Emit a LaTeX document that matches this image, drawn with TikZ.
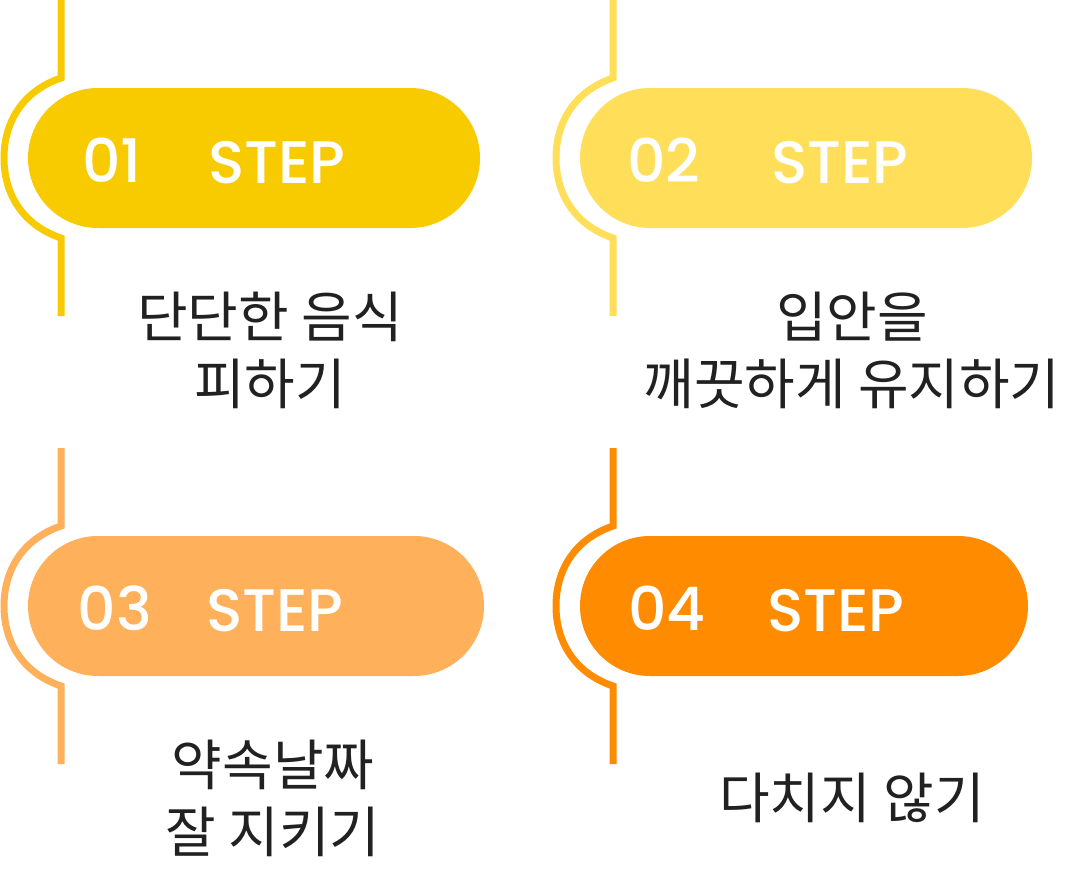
\documentclass[tikz,border=0pt]{standalone}
\usepackage{fontspec}
\setmainfont{Noto Sans CJK KR}
\newfontfamily\numf{Poppins Medium}
\begin{document}
\begin{tikzpicture}[x=1pt,y=-1pt,
  lbl/.style={font=\fontsize{60}{60}\selectfont\numf,text=white,anchor=center},
  kor/.style={font=\fontsize{55}{67}\selectfont,text=black!87,align=center,anchor=center}]
\useasboundingbox (0,0) rectangle (1080,876);
\definecolor{c1}{HTML}{F8CB00}\definecolor{c2}{HTML}{FFDE59}
\definecolor{c3}{HTML}{FFB05A}\definecolor{c4}{HTML}{FF8C00}
\newcommand\stepblock[9]{% x0,y0,color,num,numx,stepx,pillw,textx,text
  \begin{scope}[shift={(#1,#2)}]
  \draw[#3,line width=7pt] (61,0) -- (61,78) .. controls (20,92) and (4,125) .. (4,158) .. controls (4,191) and (20,224) .. (61,238) -- (61,316);
  \fill[#3,rounded corners=69.9pt] (28,88) rectangle (#7,228);
  \node[lbl] (n#4) at (#5,160) {0#4};
  \node[lbl] (s#4) at (#6,163) {STEP};
  \node[kor] (t#4) at (#8,350) {#9};
  \end{scope}}
\stepblock{0}{0}{c1}{1}{112}{277}{480}{270}{단단한 음식\\피하기}
\stepblock{552}{0}{c2}{2}{112}{288}{480}{300}{입안을\\깨끗하게 유지하기}
\stepblock{0}{448}{c3}{3}{115}{275}{484}{273}{약속날짜\\잘 지키기}
\stepblock{552}{448}{c4}{4}{115}{284}{476}{300}{다치지 않기}
\end{tikzpicture}
\end{document}
